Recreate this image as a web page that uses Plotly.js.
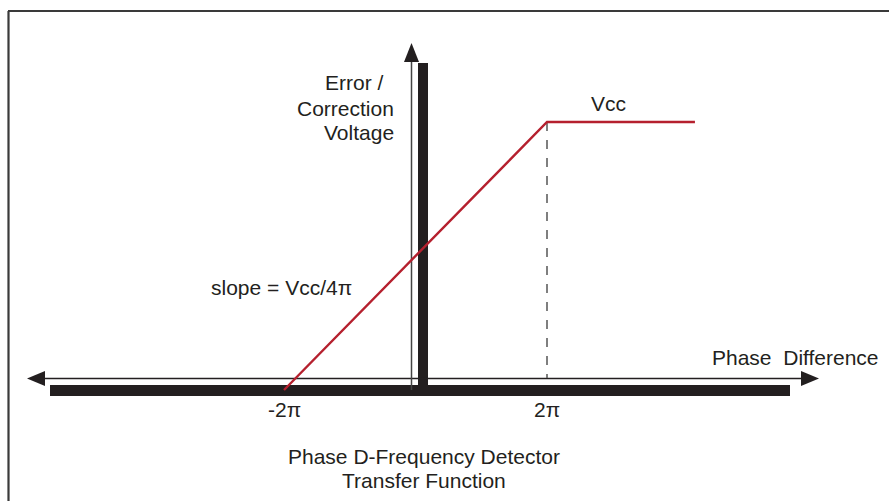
<!DOCTYPE html>
<html>
<head>
<meta charset="utf-8">
<script src="https://cdn.plot.ly/plotly-3.0.1.min.js"></script>
<style>html,body{margin:0;padding:0;background:#fff;}#chart{width:889px;height:501px;}</style>
</head>
<body>
<div id="chart"></div>
<script>
// Data (x in units of pi, y in units of Vcc)
var phaseX = [-2, 2, 4.25];
var voltageY = [0, 1, 1];
var tickVals = [-2, 2];
var tickText = ['-2\u03c0', '2\u03c0'];
var W = 889, H = 501;
// axis ranges so that x=0 ~ px 415.5, 1 unit = 65.75px ; y=0 ~ px 390, 1 unit = 268px
var xr = [(0 - 415.5) / 65.75, (W - 415.5) / 65.75];
var yr = [(390 - H) / 268, (390 - 0) / 268];
function px(p){ return p / W; }
function py(p){ return 1 - p / H; }
var ink = '#231f20';
var font = 'Liberation Sans, Arial, Helvetica, sans-serif';
var fs = 21;

function pLine(x0,y0,x1,y1,color,width,dash){
  return {type:'line', layer:'below', xref:'paper', yref:'paper', x0:px(x0), y0:py(y0), x1:px(x1), y1:py(y1),
    line:{color:color, width:width, dash:dash||'solid'}};
}
function pRect(x0,y0,x1,y1,color){
  return {type:'rect', layer:'below', xref:'paper', yref:'paper', x0:px(x0), y0:py(y0), x1:px(x1), y1:py(y1),
    fillcolor:color, line:{width:0}};
}
function pTri(pts,color){
  var d = 'M ' + pts.map(function(p){return px(p[0]) + ' ' + py(p[1]);}).join(' L ') + ' Z';
  return {type:'path', layer:'below', xref:'paper', yref:'paper', path:d, fillcolor:color, line:{width:0}};
}

var shapes = [
  // border
  pLine(8, 11, 889, 11, '#3a3a3a', 2),
  pLine(8.5, 11, 8.5, 501, '#3a3a3a', 2.2),
  // thick shadow bars
  pRect(50, 385, 790, 396, ink),
  pRect(418, 63, 428, 392, ink),
  // thin axes
  pLine(40, 378.5, 806, 378.5, ink, 1.3),
  pLine(411.5, 58, 411.5, 390, '#444', 1.5),
  // arrowheads
  pTri([[27,378.5],[45,371],[45,386]], ink),
  pTri([[819,378.5],[801,371],[801,386]], ink),
  pTri([[411.5,43],[404,62],[419,62]], ink),
  // dashed guide at 2pi
  {type:'line', layer:'below', xref:'x', yref:'y', x0:2, x1:2, y0:voltageY[1], y1:(390-378)/268,
    line:{color:'#555', width:1.5, dash:'dash'}}
];

var ann = [];
function txt(x, y, t, size, xanchor){
  ann.push({xref:'paper', yref:'paper', x:px(x), y:py(y), text:t, showarrow:false,
    xanchor:xanchor||'center', yanchor:'middle', font:{family:font, size:size, color:ink}});
}
txt(354, 83, 'Error /', fs);
txt(345, 108, 'Correction', fs);
txt(359, 132, 'Voltage', fs);
txt(608, 103, 'Vcc', fs);
txt(281, 287, 'slope = Vcc/4\u03c0', fs);
txt(795, 357, 'Phase&nbsp;&nbsp;Difference', fs);
txt(424, 456, 'Phase D-Frequency Detector', fs);
txt(424, 480, 'Transfer Function', fs);
for (var i = 0; i < tickVals.length; i++) {
  ann.push({xref:'x', yref:'paper', x:tickVals[i], y:py(409), text:tickText[i], showarrow:false,
    xanchor:'center', yanchor:'middle', font:{family:font, size:fs, color:ink}});
}

var trace = {x: phaseX, y: voltageY, type:'scatter', mode:'lines',
  line:{color:'#b5202e', width:2.4}, hoverinfo:'skip'};

var layout = {
  width: W, height: H, autosize:false,
  margin:{l:0, r:0, t:0, b:0, pad:0},
  paper_bgcolor:'#fff', plot_bgcolor:'#fff',
  showlegend:false,
  xaxis:{range:xr, visible:false, fixedrange:true},
  yaxis:{range:yr, visible:false, fixedrange:true},
  shapes: shapes,
  annotations: ann
};
Plotly.newPlot('chart', [trace], layout, {displayModeBar:false, staticPlot:true});
</script>
</body>
</html>
